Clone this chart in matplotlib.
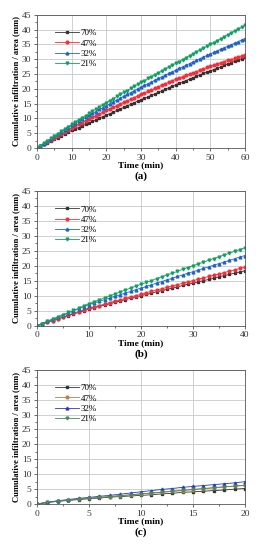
import matplotlib
matplotlib.use("Agg")
import matplotlib.pyplot as plt
from matplotlib.ticker import MultipleLocator, AutoMinorLocator

plt.rcParams['font.family'] = ['Liberation Serif', 'DejaVu Serif']

labels = ["70%", "47%", "32%", "21%"]

# Panel (a): time 0..60 min, every 1 min
time_a = list(range(0, 61))
a_70 = [0, 0.6, 1.2, 1.8, 2.4, 3.0, 3.5, 4.1, 4.7, 5.3, 5.9,
        6.4, 6.9, 7.5, 8.0, 8.5, 9.0, 9.5, 10.1, 10.6, 11.1,
        11.6, 12.1, 12.7, 13.2, 13.7, 14.2, 14.7, 15.3, 15.8, 16.3,
        16.8, 17.3, 17.8, 18.3, 18.8, 19.3, 19.8, 20.4, 20.9, 21.4,
        21.9, 22.3, 22.8, 23.3, 23.8, 24.2, 24.7, 25.2, 25.6, 26.1,
        26.5, 27.0, 27.4, 27.9, 28.4, 28.8, 29.3, 29.7, 30.2, 30.6]
a_47 = [0, 0.7, 1.4, 2.0, 2.7, 3.4, 4.1, 4.8, 5.4, 6.1, 6.8,
        7.4, 8.0, 8.6, 9.2, 9.8, 10.3, 10.9, 11.5, 12.1, 12.7,
        13.2, 13.8, 14.3, 14.9, 15.4, 15.9, 16.5, 17.0, 17.6, 18.1,
        18.6, 19.1, 19.6, 20.1, 20.7, 21.2, 21.7, 22.2, 22.7, 23.2,
        23.6, 24.1, 24.5, 25.0, 25.4, 25.8, 26.3, 26.7, 27.2, 27.6,
        28.0, 28.4, 28.8, 29.2, 29.6, 29.9, 30.3, 30.7, 31.1, 31.5]
a_32 = [0, 0.8, 1.5, 2.3, 3.1, 3.9, 4.6, 5.4, 6.2, 6.9, 7.7,
        8.4, 9.0, 9.7, 10.3, 11.0, 11.7, 12.3, 13.0, 13.6, 14.3,
        14.9, 15.6, 16.2, 16.8, 17.5, 18.1, 18.7, 19.3, 20.0, 20.6,
        21.2, 21.7, 22.3, 22.9, 23.5, 24.0, 24.6, 25.2, 25.7, 26.3,
        26.9, 27.4, 28.0, 28.5, 29.1, 29.6, 30.2, 30.7, 31.3, 31.8,
        32.3, 32.8, 33.4, 33.9, 34.4, 34.9, 35.4, 35.9, 36.5, 37.0]
a_21 = [0, 0.8, 1.6, 2.4, 3.2, 4.0, 4.8, 5.6, 6.4, 7.2, 8.0,
        8.7, 9.5, 10.2, 10.9, 11.7, 12.4, 13.1, 13.8, 14.6, 15.3,
        16.0, 16.7, 17.4, 18.1, 18.8, 19.4, 20.1, 20.8, 21.5, 22.2,
        22.8, 23.5, 24.1, 24.8, 25.4, 26.0, 26.7, 27.3, 28.0, 28.6,
        29.2, 29.9, 30.5, 31.2, 31.8, 32.4, 33.1, 33.7, 34.4, 35.0,
        35.6, 36.3, 36.9, 37.6, 38.2, 38.9, 39.5, 40.2, 40.8, 41.5]

# Panel (b): time 0..40 min, every 1 min
time_b = list(range(0, 41))
b_70 = [0, 0.6, 1.1, 1.7, 2.2, 2.8, 3.3, 3.9, 4.4, 5.0, 5.5,
        6.0, 6.4, 6.9, 7.3, 7.8, 8.2, 8.7, 9.1, 9.6, 10.0,
        10.4, 10.8, 11.3, 11.7, 12.1, 12.5, 12.9, 13.4, 13.8, 14.2,
        14.6, 15.0, 15.4, 15.8, 16.3, 16.7, 17.1, 17.5, 17.9, 18.3]
b_47 = [0, 0.6, 1.2, 1.7, 2.3, 2.9, 3.5, 4.1, 4.6, 5.2, 5.8,
        6.3, 6.7, 7.2, 7.7, 8.2, 8.6, 9.1, 9.6, 10.0, 10.5,
        11.0, 11.4, 11.9, 12.3, 12.8, 13.2, 13.7, 14.1, 14.6, 15.0,
        15.5, 15.9, 16.4, 16.8, 17.3, 17.7, 18.2, 18.6, 19.1, 19.5]
b_32 = [0, 0.7, 1.4, 2.1, 2.8, 3.5, 4.2, 4.9, 5.6, 6.3, 7.0,
        7.6, 8.1, 8.7, 9.2, 9.8, 10.3, 10.9, 11.4, 12.0, 12.5,
        13.1, 13.6, 14.2, 14.7, 15.3, 15.8, 16.4, 16.9, 17.5, 18.0,
        18.5, 19.1, 19.6, 20.2, 20.7, 21.2, 21.8, 22.3, 22.9, 23.4]
b_21 = [0, 0.7, 1.5, 2.2, 2.9, 3.7, 4.4, 5.1, 5.8, 6.6, 7.3,
        8.0, 8.6, 9.3, 9.9, 10.6, 11.2, 11.9, 12.5, 13.2, 13.8,
        14.4, 15.0, 15.7, 16.3, 16.9, 17.5, 18.1, 18.8, 19.4, 20.0,
        20.6, 21.2, 21.8, 22.4, 23.0, 23.6, 24.2, 24.8, 25.4, 26.0]

# Panel (c): time 0..20 min, every 1 min
time_c = list(range(0, 21))
c_70 = [0, 0.5, 0.9, 1.2, 1.5, 1.8, 2.0, 2.3, 2.5, 2.7, 2.9,
        3.1, 3.4, 3.6, 3.9, 4.1, 4.3, 4.5, 4.7, 5.0, 5.2]
c_47 = [0, 0.5, 1.0, 1.3, 1.6, 1.9, 2.2, 2.5, 2.8, 3.1, 3.4,
        3.6, 3.9, 4.2, 4.5, 4.8, 5.1, 5.4, 5.7, 6.0, 6.4]
c_32 = [0, 0.6, 1.1, 1.5, 1.9, 2.2, 2.6, 2.9, 3.3, 3.7, 4.1,
        4.5, 4.9, 5.2, 5.6, 5.9, 6.2, 6.5, 6.8, 7.1, 7.5]
c_21 = [0, 0.6, 1.0, 1.3, 1.6, 1.9, 2.2, 2.5, 2.8, 3.1, 3.4,
        3.7, 4.0, 4.3, 4.6, 4.9, 5.2, 5.5, 5.8, 6.0, 6.2]

markers = ["s", "o", "^", "v"]
colors_ab = ["#333333", "#f0303a", "#2060d0", "#10a060"]
colors_c = ["#333333", "#b8804a", "#2838c8", "#4a8a5a"]

panels = [
    (time_a, [a_70, a_47, a_32, a_21], 60, 10, colors_ab, "(a)", [0.139, 0.731, 0.782, 0.242]),
    (time_b, [b_70, b_47, b_32, b_21], 40, 10, colors_ab, "(b)", [0.139, 0.408, 0.782, 0.245]),
    (time_c, [c_70, c_47, c_32, c_21], 20, 5, colors_c, "(c)", [0.139, 0.0836, 0.782, 0.244]),
]

fig = plt.figure(figsize=(2.66, 5.5), dpi=100)
for t, series, xmax, xstep, cols, cap, pos in panels:
    ax = fig.add_axes(pos)
    for ys, lab, m, c in zip(series, labels, markers, cols):
        ax.plot(t, ys, marker=m, color=c, markersize=2.0, linewidth=0.6, label=lab)
    ax.set_xlim(0, xmax)
    ax.set_ylim(0, 45)
    ax.xaxis.set_major_locator(MultipleLocator(xstep))
    ax.yaxis.set_major_locator(MultipleLocator(5))
    ax.xaxis.set_minor_locator(AutoMinorLocator(2))
    ax.yaxis.set_minor_locator(AutoMinorLocator(2))
    ax.grid(True, which="major", color="#c8c8c8", linewidth=0.6)
    ax.tick_params(which="major", direction="out", length=2.5, width=0.5, labelsize=6.8, pad=1.5, colors="#333333")
    ax.tick_params(which="minor", direction="out", length=1.5, width=0.4)
    for s in ax.spines.values():
        s.set_color("#555555")
        s.set_linewidth(0.6)
    ax.set_xlabel("Time (min)", fontsize=6.8, fontweight="bold", labelpad=0)
    ax.set_ylabel("Cumulative infiltration / area (mm)", fontsize=6.2, fontweight="bold", labelpad=1)
    leg = ax.legend(loc="upper left", bbox_to_anchor=(0.07, 0.92), frameon=False, fontsize=6.5,
                    handlelength=2.6, handletextpad=0.2, labelspacing=0.2, borderaxespad=0)
    ax.text(0.5, -0.21, cap, transform=ax.transAxes, ha="center", va="center", fontsize=8, fontweight="bold")

fig.savefig("out.png", dpi=100)
